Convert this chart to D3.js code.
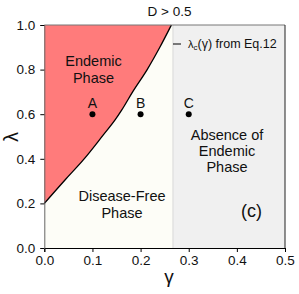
<!DOCTYPE html>
<html><head><meta charset="utf-8">
<script src="https://cdn.jsdelivr.net/npm/d3@7"></script>
<style>body{margin:0;background:#fff}svg{display:block;font-family:"Liberation Sans",Arial,sans-serif}</style>
</head><body><svg id="c" width="299" height="294"></svg>
<script>
// data
const curveGamma  = [0, 0.043, 0.081, 0.1226, 0.147, 0.161, 0.1835, 0.2137, 0.24, 0.264];
const curveLambda = [0.2, 0.305, 0.395, 0.507, 0.574, 0.619, 0.7, 0.8, 0.9, 1.0];
const gammaMax = 0.2673;
const pointNames = ["A", "B", "C"];
const pointGamma = [0.1, 0.2, 0.3];
const pointLambda = [0.6, 0.6, 0.6];
const xTicks = [0, 0.1, 0.2, 0.3, 0.4, 0.5];
const yTicks = [0, 0.2, 0.4, 0.6, 0.8, 1.0];

const svg = d3.select("#c");
const x = d3.scaleLinear().domain([0, 0.5]).range([44.3, 285]);
const y = d3.scaleLinear().domain([0, 1]).range([248, 25]);
const FONT = "Liberation Sans, Arial, sans-serif";

// regions
svg.append("rect").attr("x", x(0)).attr("y", y(1)).attr("width", x(gammaMax)-x(0)).attr("height", y(0)-y(1)).attr("fill", "#fdfdf7");
svg.append("rect").attr("x", x(gammaMax)).attr("y", y(1)).attr("width", x(0.5)-x(gammaMax)).attr("height", y(0)-y(1)).attr("fill", "#f0f0f0");
svg.append("line").attr("x1", x(gammaMax)).attr("x2", x(gammaMax)).attr("y1", y(1)).attr("y2", y(0)).attr("stroke", "#d8d8d8").attr("stroke-width", 1);

const pts = curveGamma.map((g, i) => [g, curveLambda[i]]);
const red = [[0, 1], ...pts];
svg.append("path").attr("d", d3.line().x(d => x(d[0])).y(d => y(d[1]))(red) + "Z").attr("fill", "#ff7b7b");
svg.append("path").attr("d", d3.line().curve(d3.curveMonotoneX).x(d => x(d[0])).y(d => y(d[1]))(pts)).attr("fill", "none").attr("stroke", "#000").attr("stroke-width", 1.3);

// frame
svg.append("line").attr("x1", x(0)).attr("x2", x(0.5)).attr("y1", y(1)).attr("y2", y(1)).attr("stroke", "#777");
svg.append("line").attr("x1", x(0.5)).attr("x2", x(0.5)).attr("y1", y(1)).attr("y2", y(0)).attr("stroke", "#222");

// axes
const xa = svg.append("g").attr("transform", `translate(0,${y(0)})`).call(d3.axisBottom(x).tickValues(xTicks).tickFormat(d3.format(".1f")).tickSize(4).tickPadding(3));
xa.select(".domain").attr("stroke", "#000");
xa.selectAll("text").attr("font-size", 13.5).attr("fill", "#111").attr("font-family", FONT);
const ya = svg.append("g").attr("transform", `translate(${x(0)},0)`).call(d3.axisLeft(y).tickValues(yTicks).tickFormat(d3.format(".1f")).tickSize(4).tickPadding(5));
ya.select(".domain").attr("stroke", "#666");
ya.selectAll("text").attr("font-size", 13.5).attr("fill", "#111").attr("font-family", FONT);

// axis titles
svg.append("text").attr("x", 169).attr("y", 283).attr("text-anchor", "middle").attr("font-size", 19).attr("fill", "#111").text("γ");
svg.append("text").attr("transform", "translate(18,137) rotate(-90)").attr("text-anchor", "middle").attr("font-size", 20).attr("fill", "#111").text("λ");

// title
svg.append("text").attr("x", 169.5).attr("y", 16).attr("text-anchor", "middle").attr("font-size", 13.5).attr("fill", "#111").text("D > 0.5");

// legend
svg.append("line").attr("x1", 173).attr("x2", 181).attr("y1", 44).attr("y2", 44).attr("stroke", "#000").attr("stroke-width", 1);
const lt = svg.append("text").attr("x", 188).attr("y", 48).attr("font-size", 12.5).attr("fill", "#111");
lt.append("tspan").attr("font-size", 11).text("λ");
lt.append("tspan").attr("font-size", 8).attr("dy", 2).text("c");
lt.append("tspan").attr("dy", -2).text("(γ) from Eq.12");

// region labels
function lines(cx, ys, arr, size) {
  arr.forEach((t, i) => svg.append("text").attr("x", cx).attr("y", ys[i]).attr("text-anchor", "middle").attr("font-size", size).attr("fill", "#111").text(t));
}
lines(93.5, [66, 83], ["Endemic", "Phase"], 14.5);
lines(122, [201, 218], ["Disease-Free", "Phase"], 14.5);
lines(227, [140, 156, 172], ["Absence of", "Endemic", "Phase"], 14.5);
svg.append("text").attr("x", 251.5).attr("y", 217).attr("text-anchor", "middle").attr("font-size", 18).attr("fill", "#111").text("(c)");

// points
pointNames.forEach((n, i) => {
  svg.append("circle").attr("cx", x(pointGamma[i])).attr("cy", y(pointLambda[i])).attr("r", 3).attr("fill", "#000");
  svg.append("text").attr("x", x(pointGamma[i])).attr("y", y(pointLambda[i]) - 6).attr("text-anchor", "middle").attr("font-size", 14).attr("fill", "#111").text(n);
});
</script></body></html>
